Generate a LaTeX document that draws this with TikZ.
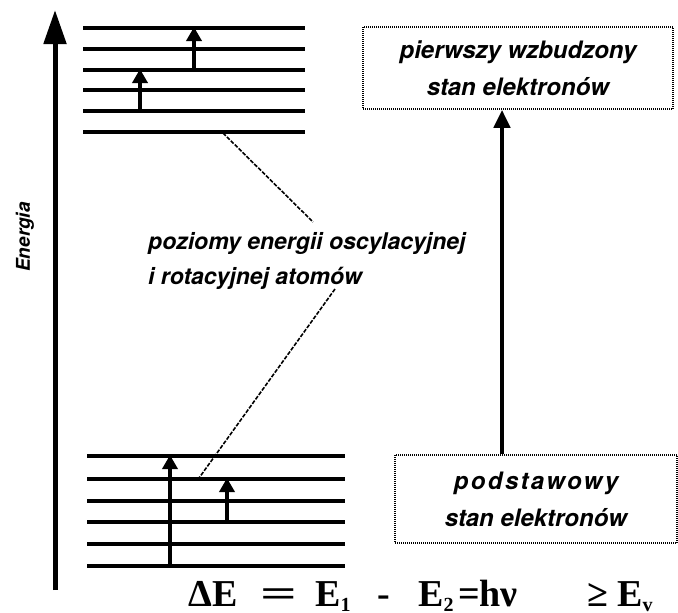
\documentclass[tikz,border=0pt]{standalone}
\usepackage{fontspec}
\usetikzlibrary{arrows.meta}
\usetikzlibrary{calc}
\newfontfamily\labelfont{TeX Gyre Heros}
\newfontfamily\eqfont{Liberation Serif}
\newcommand{\eqsub}[1]{\raisebox{-5pt}{\fontsize{20}{20}\selectfont #1}}

\begin{document}
\begin{tikzpicture}[x=1pt, y=-1pt,
    level/.style={line width=3.2pt},
    jump/.style={line width=3.6pt, -{Triangle[length=14pt,width=15pt]}},
    leader/.style={line width=1.6pt, dash pattern=on 4pt off 1.5pt},
    statebox/.style={draw, line width=1.5pt, dash pattern=on 1pt off 1pt, align=center,
        font=\labelfont\bfseries\itshape\fontsize{24}{37}\selectfont},
    ]
    \useasboundingbox (0,0) rectangle (678,613);

    % energy axis
    \draw [line width=5pt, -{Triangle[length=34pt,width=22pt]}] (55,590) -- (55,10);
    \node (energia) [rotate=90, font=\labelfont\bfseries\itshape\fontsize{19}{20}\selectfont] at (25,237) {Energia};

    % levels of the excited state
    \foreach \y [count=\i] in {28,49,70,90,111,132}
        \draw [level] (83,\y) coordinate (u\i) -- (305,\y);
    \draw [jump] (140,111) -- (140,69);
    \draw [jump] (194,70) -- (194,27);

    % levels of the ground state
    \foreach \y [count=\i] in {456,479,501,522,544,566}
        \draw [level] (87,\y) coordinate (d\i) -- (345,\y);
    \draw [jump] (170,566) -- (170,455);
    \draw [jump] (227,522) -- (227,478);

    % label of the levels
    \node (levels) [anchor=north west, align=left, inner sep=0,
        font=\labelfont\bfseries\itshape\fontsize{23}{35}\selectfont] at (148,232)
        {poziomy energii oscylacyjnej\\i rotacyjnej atomów};
    \coordinate (uleader) at (223,133);
    \coordinate (ltop) at (313,222);
    \coordinate (lbot) at (335,289);
    \coordinate (dleader) at (199,478);
    \draw [leader] (uleader) -- (ltop);
    \draw [leader] (lbot) -- (dleader);

    % electronic states
    \node (excited) [statebox, minimum width=310pt, minimum height=82pt] at (518,68)
        {pierwszy wzbudzony\\stan elektronów};
    \node (ground) [statebox, minimum width=282pt, minimum height=88pt] at (536,499)
        {{\addfontfeature{LetterSpace=10}podstawowy}\\stan elektronów};
    \coordinate (trans) at (502,0);
    \draw [line width=4.5pt, -{Triangle[length=18pt,width=16pt]}] (ground.north -| trans) -- (excited.south -| trans);

    % formula
    \node (formula) [anchor=base west, inner sep=0, font=\eqfont\bfseries\fontsize{38}{38}\selectfont] at (188,606)
        {\rlap{ΔE}\hspace{72pt}\rlap{\scalebox{1.7}[1]{=}}\hspace{55pt}\rlap{E\eqsub{1}}\hspace{62pt}\rlap{-}\hspace{41pt}\rlap{E\eqsub{2}}\hspace{40pt}\rlap{=hν}\hspace{129pt}\rlap{≥}\hspace{30pt}E\eqsub{v}};
\end{tikzpicture}
\end{document}
